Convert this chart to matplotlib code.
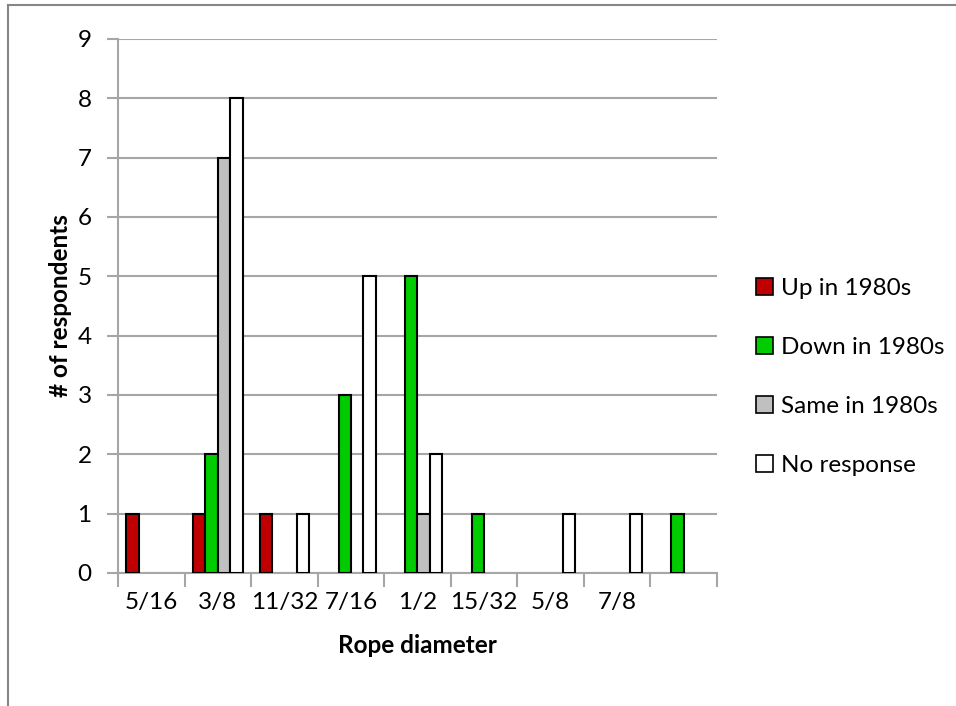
import numpy as np
import matplotlib
matplotlib.use("Agg")
import matplotlib.pyplot as plt
from matplotlib.patches import Patch
from matplotlib.lines import Line2D

plt.rcParams.update({'font.family': 'Lato', 'font.size': 17.5})

# Survey counts per rope diameter (last category has no label)
diameters = ["5/16", "3/8", "11/32", "7/16", "1/2", "15/32", "5/8", "7/8", ""]
up_1980s = [1, 1, 1, 0, 0, 0, 0, 0, 0]
down_1980s = [0, 2, 0, 3, 5, 1, 0, 0, 1]
same_1980s = [0, 7, 0, 0, 1, 0, 0, 0, 0]
no_response = [0, 8, 1, 5, 2, 0, 1, 1, 0]

series = [
    ("Up in 1980s", up_1980s, "#C00000"),
    ("Down in 1980s", down_1980s, "#00CC00"),
    ("Same in 1980s", same_1980s, "#C0C0C0"),
    ("No response", no_response, "#FFFFFF"),
]

grid_color = "#A6A6A6"
fig = plt.figure(figsize=(9.56, 7.06), dpi=100)
ax = fig.add_axes([0.1234, 0.1884, 0.6266, 0.7564])

x = np.arange(len(diameters))
bw = 0.186
for i, (name, vals, col) in enumerate(series):
    vals = np.array(vals)
    offs = (i - 1.5) * bw
    mask = vals > 0
    ax.bar(x[mask] + offs, vals[mask], width=bw, color=col,
           edgecolor="black", linewidth=1.5, zorder=3)

ax.set_xlim(-0.5, len(diameters) - 0.5)
ax.set_ylim(0, 9)
ax.set_yticks(np.arange(0, 10, 1))
ax.yaxis.grid(True, color=grid_color, linewidth=1.5, zorder=0)

# category boundaries as ticks, labels centred on categories
ax.set_xticks(np.arange(-0.5, len(diameters)), labels=[])
ax.set_xticks(x, labels=diameters, minor=True)
ax.tick_params(axis='x', which='major', length=10, width=1.5, color=grid_color)
ax.tick_params(axis='x', which='minor', length=0, pad=14)
ax.tick_params(axis='y', length=8, width=1.5, color=grid_color, pad=11)

for side in ["top", "right"]:
    ax.spines[side].set_visible(False)
for side in ["left", "bottom"]:
    ax.spines[side].set_color(grid_color)
    ax.spines[side].set_linewidth(1.5)

ax.set_xlabel("Rope diameter", fontweight="bold", labelpad=15)
ax.set_ylabel("# of respondents", fontweight="bold", labelpad=4)

handles = [Patch(facecolor=c, edgecolor="black", linewidth=1.2, label=n)
           for n, _, c in series]
ax.legend(handles=handles, loc="center left", bbox_to_anchor=(0.778, 0.466),
          bbox_transform=fig.transFigure, frameon=False, borderpad=0,
          handlelength=0.7, handleheight=0.7, handletextpad=0.35,
          labelspacing=1.55)

# chart area border
fig.add_artist(Line2D([8 / 956, 1.0], [1 - 5 / 706, 1 - 5 / 706],
                      transform=fig.transFigure, color="#868686", linewidth=1.5))
fig.add_artist(Line2D([8 / 956, 8 / 956], [0.0, 1 - 5 / 706],
                      transform=fig.transFigure, color="#868686", linewidth=1.5))

fig.savefig("out.png", dpi=100)
